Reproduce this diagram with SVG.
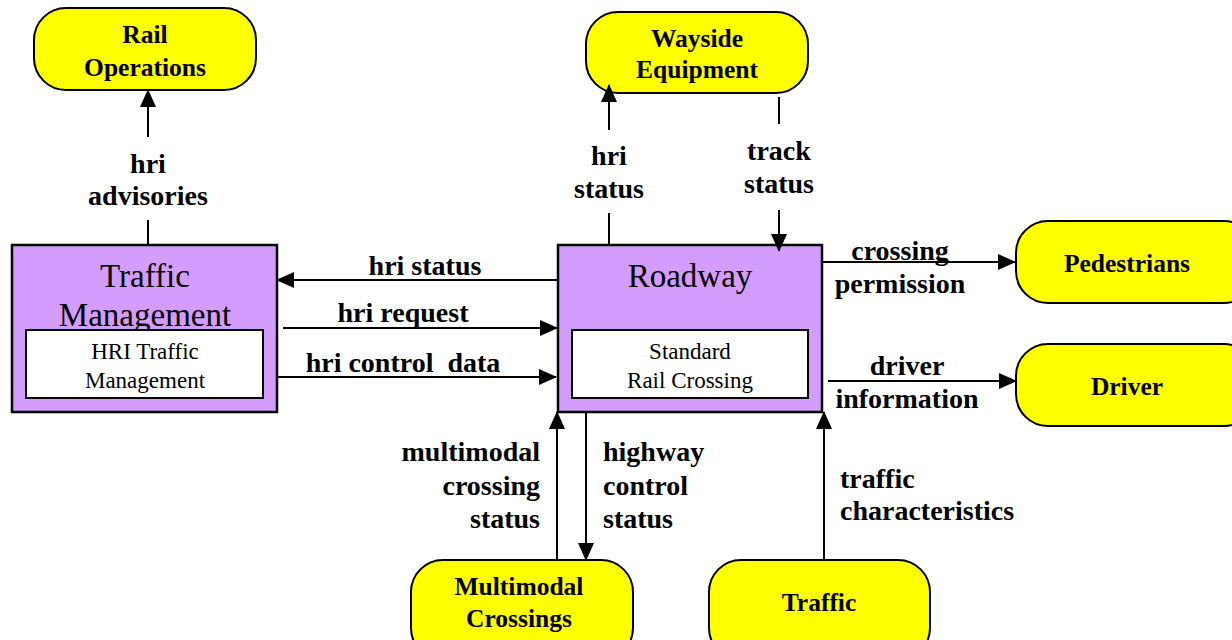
<svg xmlns="http://www.w3.org/2000/svg" width="1232" height="640" viewBox="0 0 1232 640">
<style>
.term{fill:#ffff00;stroke:#000;stroke-width:2}
.proc{fill:#d49cff;stroke:#000;stroke-width:2.5}
.inner{fill:#fff;stroke:#000;stroke-width:2}
.nt{font-family:"Liberation Serif",serif;font-weight:bold;font-size:25.5px;text-anchor:middle}
.pt{font-family:"Liberation Serif",serif;font-size:33px;text-anchor:middle}
.it{font-family:"Liberation Serif",serif;font-size:23px;text-anchor:middle}
.lb{font-family:"Liberation Serif",serif;font-weight:bold;font-size:28px}
.c{fill:none;stroke:#000;stroke-width:2}
</style>
<defs>
<marker id="ah" markerWidth="18" markerHeight="16" refX="17" refY="8" orient="auto" markerUnits="userSpaceOnUse">
<path d="M0,0 L18,8 L0,16 Z" fill="#000"/>
</marker>
</defs>
<rect width="1232" height="640" fill="#fff"/>
<g id="rail-operations">
<rect class="term" x="34" y="8" width="222" height="82" rx="32"/>
<text class="nt" x="145" y="43">Rail</text>
<text class="nt" x="145" y="76">Operations</text>
</g>
<g id="wayside-equipment">
<rect class="term" x="586" y="12" width="222" height="81" rx="32"/>
<text class="nt" x="697" y="47">Wayside</text>
<text class="nt" x="697" y="78">Equipment</text>
</g>
<g id="pedestrians">
<rect class="term" x="1016" y="221" width="240" height="82" rx="32"/>
<text class="nt" x="1127" y="272">Pedestrians</text>
</g>
<g id="driver">
<rect class="term" x="1016" y="344" width="240" height="82" rx="32"/>
<text class="nt" x="1127" y="395">Driver</text>
</g>
<g id="multimodal-crossings">
<rect class="term" x="411" y="560" width="222" height="100" rx="32"/>
<text class="nt" x="519" y="595">Multimodal</text>
<text class="nt" x="519" y="627">Crossings</text>
</g>
<g id="traffic">
<rect class="term" x="709" y="560" width="221" height="100" rx="32"/>
<text class="nt" x="819" y="611">Traffic</text>
</g>
<g id="traffic-management">
<rect class="proc" x="12" y="245" width="265" height="167"/>
<text class="pt" x="145" y="287">Traffic</text>
<text class="pt" x="145" y="326">Management</text>
<rect class="inner" x="26" y="330" width="237" height="68"/>
<text class="it" x="145" y="359">HRI Traffic</text>
<text class="it" x="145" y="388">Management</text>
</g>
<g id="roadway">
<rect class="proc" x="558" y="245" width="264" height="167"/>
<text class="pt" x="690" y="287">Roadway</text>
<rect class="inner" x="572" y="330" width="236" height="68"/>
<text class="it" x="690" y="359">Standard</text>
<text class="it" x="690" y="388">Rail Crossing</text>
</g>
<g id="connectors">
<line class="c" x1="148" y1="137" x2="148" y2="90" marker-end="url(#ah)"/>
<line class="c" x1="148" y1="220" x2="148" y2="245"/>
<line class="c" x1="609" y1="245" x2="609" y2="213"/>
<line class="c" x1="609" y1="130" x2="609" y2="85" marker-end="url(#ah)"/>
<line class="c" x1="779" y1="97" x2="779" y2="124"/>
<line class="c" x1="779" y1="210" x2="779" y2="251" marker-end="url(#ah)"/>
<line class="c" x1="558" y1="280" x2="277" y2="280" marker-end="url(#ah)"/>
<line class="c" x1="283" y1="328" x2="557" y2="328" marker-end="url(#ah)"/>
<line class="c" x1="277" y1="377" x2="556" y2="377" marker-end="url(#ah)"/>
<line class="c" x1="822" y1="262" x2="1015" y2="262" marker-end="url(#ah)"/>
<line class="c" x1="828" y1="381" x2="1016" y2="381" marker-end="url(#ah)"/>
<line class="c" x1="557" y1="560" x2="557" y2="412" marker-end="url(#ah)"/>
<line class="c" x1="586" y1="412" x2="586" y2="560" marker-end="url(#ah)"/>
<line class="c" x1="824" y1="560" x2="824" y2="412" marker-end="url(#ah)"/>
<g class="lb">
<text x="148" y="173" text-anchor="middle">hri</text>
<text x="148" y="205" text-anchor="middle">advisories</text>
<text x="609" y="165" text-anchor="middle">hri</text>
<text x="609" y="198" text-anchor="middle">status</text>
<text x="779" y="160" text-anchor="middle">track</text>
<text x="779" y="193" text-anchor="middle">status</text>
<text x="425" y="275" text-anchor="middle">hri status</text>
<text x="403" y="322" text-anchor="middle">hri request</text>
<text x="403" y="372" text-anchor="middle" xml:space="preserve">hri control  data</text>
<text x="900" y="260" text-anchor="middle">crossing</text>
<text x="900" y="293" text-anchor="middle">permission</text>
<text x="907" y="375" text-anchor="middle">driver</text>
<text x="907" y="408" text-anchor="middle">information</text>
<text x="540" y="461" text-anchor="end">multimodal</text>
<text x="540" y="495" text-anchor="end">crossing</text>
<text x="540" y="528" text-anchor="end">status</text>
<text x="603" y="461">highway</text>
<text x="603" y="495">control</text>
<text x="603" y="528">status</text>
<text x="840" y="488">traffic</text>
<text x="840" y="520">characteristics</text>
</g>
</g>
</svg>
